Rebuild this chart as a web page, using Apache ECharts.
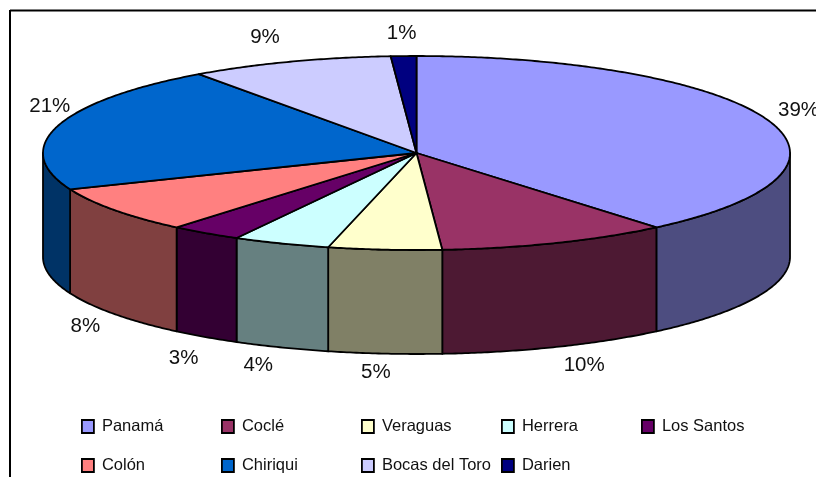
<!DOCTYPE html>
<html>
<head>
<meta charset="utf-8">
<style>html,body{margin:0;padding:0;background:#fff}#c{width:816px;height:477px}</style>
<script src="https://cdn.jsdelivr.net/npm/echarts@6/dist/echarts.min.js"></script>
</head>
<body>
<div id="c"></div>
<script>
const categories = ['Panamá','Coclé','Veraguas','Herrera','Los Santos','Colón','Chiriqui','Bocas del Toro','Darien'];
const values = [38.9, 10.0, 4.9, 4.2, 3.1, 7.8, 21.2, 8.8, 1.1];
const percentLabels = ['39%','10%','5%','4%','3%','8%','21%','9%','1%'];
const topColors = ['#9999ff','#993366','#ffffcc','#ccffff','#660066','#ff8080','#0066cc','#ccccff','#000080'];
const sideColors = ['#4d4d80','#4d1933','#808066','#668080','#330033','#804040','#003366','#666680','#000040'];
const labelNudges = [[31,-10],[28,18],[-9,19],[-23,18],[-22,21],[-29,12],[-8,-20],[-25,-24],[-2,-23]];
const legendColumns = [81,221,361,501,641,81,221,361,501];
const legendRows = [418,418,418,418,418,457,457,457,457];

const CX = 416.5, CY = 153, RX = 373.5, RY = 97, DEPTH = 104;
const total = values.reduce((a,b)=>a+b,0);
const starts = [];
values.reduce((acc,v,i)=>{starts[i]=acc;return acc+v;},0);
const rad = d => d*Math.PI/180;
const pt = (deg,dy=0) => [CX+RX*Math.sin(rad(deg)), CY-RY*Math.cos(rad(deg))+dy];
function arc(a0,a1,dy=0){
  const n=Math.max(2,Math.ceil(Math.abs(a1-a0)*2)), out=[];
  for(let i=0;i<=n;i++) out.push(pt(a0+(a1-a0)*i/n,dy));
  return out;
}
const LINE = 1.8;
function makeRender(i){
  return function(params,api){
    const a0=starts[i]/total*360, a1=(starts[i]+api.value(0))/total*360;
    const children=[];
    const s=Math.max(a0,90), e=Math.min(a1,270);
    if(e>s){
      const poly=arc(s,e).concat(arc(e,s,DEPTH));
      children.push({type:'polygon',z2:1,shape:{points:poly},style:{fill:sideColors[i],stroke:'#000',lineWidth:LINE,lineJoin:'round'}});
    }
    const top=[[CX,CY]].concat(arc(a0,a1));
    children.push({type:'polygon',z2:2,shape:{points:top},style:{fill:topColors[i],stroke:'#000',lineWidth:LINE,lineJoin:'round'}});
    const mid=(a0+a1)/2, front=Math.cos(rad(mid))<0;
    const p=pt(mid,front?DEPTH:0);
    children.push({type:'text',z2:3,x:p[0]+labelNudges[i][0],y:p[1]+labelNudges[i][1],
      style:{text:percentLabels[i],fill:'#111',font:'20.5px "Liberation Sans", Arial, sans-serif',align:'center',verticalAlign:'middle'}});
    return {type:'group',children};
  };
}
const series = categories.map((name,i)=>({
  type:'custom',name,coordinateSystem:'none',silent:true,animation:false,
  itemStyle:{color:topColors[i]},
  data:[[values[i]]],
  renderItem:makeRender(i)
}));
const legend = categories.map((name,i)=>({
  data:[name],left:legendColumns[i],top:legendRows[i],padding:0,itemWidth:12,itemHeight:13,
  icon:'rect',selectedMode:false,itemGap:0,
  itemStyle:{borderColor:'#000',borderWidth:1.8},
  textStyle:{fontFamily:'"Liberation Sans", Arial, sans-serif',fontSize:16.5,color:'#111',padding:[0,0,5,3]}
}));
const chart = echarts.init(document.getElementById('c'),null,{renderer:'canvas'});
chart.setOption({
  backgroundColor:'#fff',animation:false,
  legend,
  series,
  graphic:[
    {type:'line',silent:true,shape:{x1:10,y1:10.5,x2:816,y2:10.5},style:{stroke:'#000',lineWidth:2}},
    {type:'line',silent:true,shape:{x1:10,y1:10,x2:10,y2:477},style:{stroke:'#000',lineWidth:2}}
  ]
});
</script>
</body>
</html>
